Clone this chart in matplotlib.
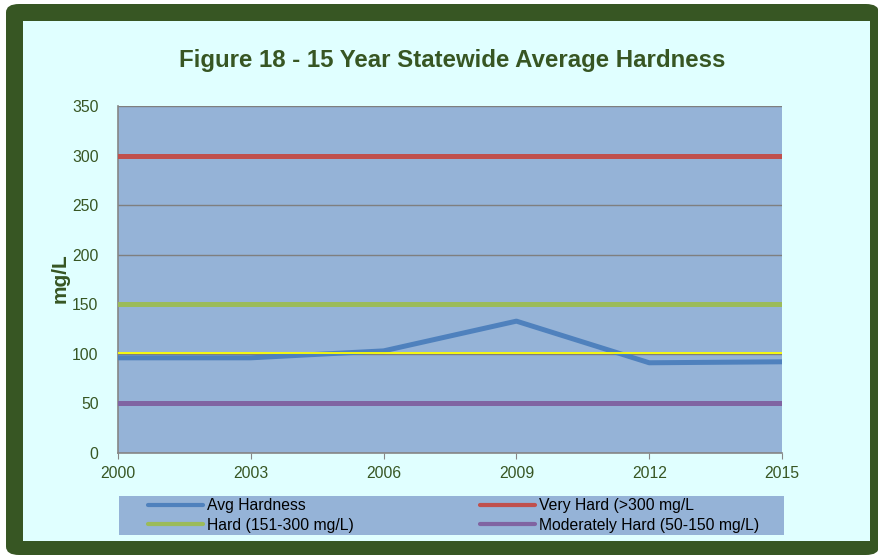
import matplotlib
matplotlib.use('Agg')
import matplotlib.pyplot as plt
from matplotlib.patches import FancyBboxPatch, Rectangle

# Data
years = [2000, 2003, 2006, 2009, 2012, 2015]
avg_hardness = [96, 96, 103, 133, 91, 92]
very_hard = 300
hard = 150
moderately_hard = 50
reference_line = 100
tick_years = [2000, 2003, 2006, 2009, 2012, 2015]

dark_green = '#375623'
W, H = 879, 556

plt.rcParams['font.family'] = ['Liberation Sans', 'DejaVu Sans']
fig = plt.figure(figsize=(W / 100, H / 100), dpi=100)
fig.patch.set_facecolor('white')

# Outer rounded green frame and light cyan panel
fig.patches.append(FancyBboxPatch((6 / W, 1 - 555 / H), (879 - 6) / W, (555 - 4) / H,
                                  boxstyle='round,pad=0,rounding_size=0.015',
                                  transform=fig.transFigure, facecolor=dark_green,
                                  edgecolor='none', zorder=0))
fig.patches.append(Rectangle((23 / W, 1 - 541 / H), (870 - 23) / W, (541 - 21) / H,
                             transform=fig.transFigure, facecolor='#E0FFFF',
                             edgecolor='none', zorder=1))
# legend background strip
fig.patches.append(Rectangle((119 / W, 1 - 535 / H), (784 - 119) / W, (535 - 496) / H,
                             transform=fig.transFigure, facecolor='#95B3D7',
                             edgecolor='none', zorder=2))

ax = fig.add_axes([118 / W, 1 - 453 / H, (782 - 118) / W, (453 - 106) / H])
ax.set_facecolor('#95B3D7')
ax.set_zorder(2)

ax.set_xlim(2000, 2015)
ax.set_ylim(0, 350)
ax.set_yticks(range(0, 351, 50))
ax.set_xticks(tick_years)
ax.grid(axis='y', color='#7F7F7F', linewidth=1)
ax.set_axisbelow(True)

l1, = ax.plot(years, avg_hardness, color='#4F81BD', linewidth=3.6, label='Avg Hardness',
              solid_capstyle='butt', zorder=4)
l2, = ax.plot([2000, 2015], [very_hard, very_hard], color='#C0504D', linewidth=3.6,
              label='Very Hard (>300 mg/L', zorder=3)
l3, = ax.plot([2000, 2015], [hard, hard], color='#9BBB59', linewidth=3.6,
              label='Hard (151-300 mg/L)', zorder=3)
l4, = ax.plot([2000, 2015], [moderately_hard, moderately_hard], color='#8064A2', linewidth=3.6,
              label='Moderately Hard (50-150 mg/L)', zorder=3)
ax.plot([2000, 2015], [reference_line + 1, reference_line + 1], color='#FFFF00', linewidth=1.3, zorder=5)

for side in ['top', 'right']:
    ax.spines[side].set_visible(False)
for side in ['left', 'bottom']:
    ax.spines[side].set_color('#868686')
    ax.spines[side].set_linewidth(1.2)
ax.tick_params(axis='x', colors=dark_green, labelsize=11.3, length=4, direction='out',
               color='#868686', pad=5)
ax.tick_params(axis='y', colors=dark_green, labelsize=11.3, length=0, pad=14)

fig.text(60 / W, 1 - 278 / H, 'mg/L', rotation=90, ha='center', va='center',
         color=dark_green, fontsize=15, fontweight='bold', zorder=3)
fig.text(452 / W, 1 - 61 / H, 'Figure 18 - 15 Year Statewide Average Hardness',
         ha='center', va='center', color=dark_green, fontsize=17.3, fontweight='bold', zorder=3)


def add_legend(handles, x_px):
    leg = fig.legend(handles=handles, loc='upper left',
                     bbox_to_anchor=(x_px / W, 1 - 498 / H), frameon=False,
                     fontsize=11.3, handlelength=3.5, handletextpad=0.25,
                     borderpad=0, labelspacing=0.3, borderaxespad=0)
    leg.set_zorder(3)
    for line in leg.get_lines():
        line.set_linewidth(3)
        line.set_solid_capstyle('round')
    return leg


add_legend([l1, l3], 148)
add_legend([l2, l4], 480)

fig.savefig('out.png', dpi=100)
